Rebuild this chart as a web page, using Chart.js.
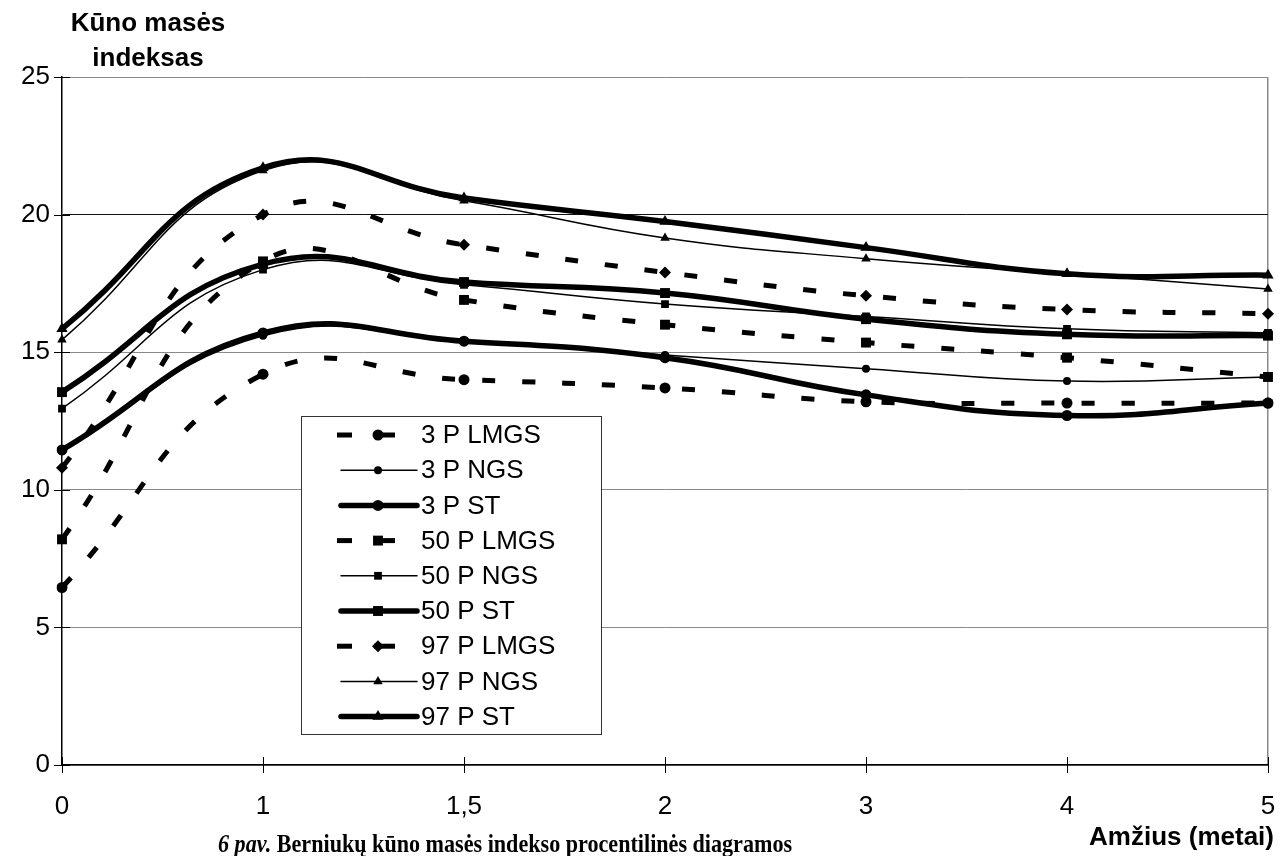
<!DOCTYPE html>
<html>
<head>
<meta charset="utf-8">
<script src="https://cdn.jsdelivr.net/npm/chart.js@4/dist/chart.umd.min.js"></script>
<style>
  html, body { margin: 0; padding: 0; background: #fff; }
  #wrap { position: relative; width: 1282px; height: 856px; overflow: hidden; }
  #c { position: absolute; left: 0; top: 0; }
  .lbl { position: absolute; font-family: "Liberation Sans", Arial, sans-serif; color: #000; white-space: nowrap; }
  #ytitle { left: 148px; top: 5px; transform: translateX(-50%); font-size: 26px; font-weight: bold; text-align: center; line-height: 35px; }
  #xtitle { right: 8px; top: 821px; font-size: 26px; font-weight: bold; }
  #caption { left: 218px; top: 830px; font-family: "Liberation Serif", "Times New Roman", serif; font-size: 25px; line-height: 28px; font-weight: bold; transform: scaleX(0.885); transform-origin: left top; }
</style>
</head>
<body>
<div id="wrap">
  <canvas id="c" width="1282" height="856"></canvas>
  <div class="lbl" id="ytitle">Kūno masės<br>indeksas</div>
  <div class="lbl" id="xtitle">Amžius (metai)</div>
  <div class="lbl" id="caption"><i>6 pav.</i> Berniukų kūno masės indekso procentilinės diagramos</div>
</div>
<script>
// age categories (years)
const ages = ['0', '1', '1,5', '2', '3', '4', '5']

// body mass index percentiles
const p3_lmgs  = [6.45, 14.2, 14.0, 13.7, 13.2, 13.15, 13.15]
const p3_ngs   = [11.4, 15.6, 15.4, 14.9, 14.4, 13.95, 14.1]
const p3_st    = [11.45, 15.7, 15.4, 14.8, 13.45, 12.7, 13.15]
const p50_lmgs = [8.2, 18.3, 16.9, 16.0, 15.35, 14.8, 14.1]
const p50_ngs  = [12.95, 18.0, 17.45, 16.75, 16.3, 15.85, 15.7]
const p50_st   = [13.55, 18.2, 17.55, 17.15, 16.2, 15.65, 15.6]
const p97_lmgs = [10.8, 20.0, 18.9, 17.9, 17.05, 16.55, 16.4]
const p97_ngs  = [15.45, 21.6, 20.5, 19.15, 18.4, 17.85, 17.3]
const p97_st   = [15.85, 21.7, 20.6, 19.75, 18.8, 17.85, 17.8]

const yTicks = [0, 5, 10, 15, 20, 25]

const FONT = '"Liberation Sans", Arial, sans-serif'

function lmgs(label, data, style, r){
  return { label, data, pointStyle: style, pointRadius: r, borderWidth: 5,
           borderDash: [13, 27], kind: 'dash' }
}
function ngs(label, data, style, r){
  return { label, data, pointStyle: style, pointRadius: r, borderWidth: 1.5, kind: 'thin' }
}
function st(label, data, style, r){
  return { label, data, pointStyle: style, pointRadius: r, borderWidth: 5.5, kind: 'thick' }
}

const datasets = [
  lmgs('3 P LMGS', p3_lmgs, 'circle', 5.5),
  ngs('3 P NGS', p3_ngs, 'circle', 4),
  st('3 P ST', p3_st, 'circle', 5.5),
  lmgs('50 P LMGS', p50_lmgs, 'rect', 7),
  ngs('50 P NGS', p50_ngs, 'rect', 5.5),
  st('50 P ST', p50_st, 'rect', 7),
  lmgs('97 P LMGS', p97_lmgs, 'rectRot', 6),
  ngs('97 P NGS', p97_ngs, 'triangle', 5.5),
  st('97 P ST', p97_st, 'triangle', 6.5),
].map(d => Object.assign({
  borderColor: '#000', backgroundColor: '#000', pointBackgroundColor: '#000',
  pointBorderColor: '#000', pointBorderWidth: 0, tension: 0.45,
  borderCapStyle: 'butt', borderJoinStyle: 'round', fill: false,
}, d))

// tick marks crossing the axes and the legend box
const extras = {
  id: 'extras',
  afterDraw(chart){
    const ctx = chart.ctx
    const x = chart.scales.x, y = chart.scales.y
    const area = chart.chartArea
    ctx.save()
    ctx.strokeStyle = '#000'
    ctx.lineWidth = 1
    yTicks.forEach(v => {
      const py = Math.round(y.getPixelForValue(v)) + 0.5
      ctx.beginPath(); ctx.moveTo(area.left - 8, py); ctx.lineTo(area.left + 8, py); ctx.stroke()
    })
    ages.forEach((a, i) => {
      const px = Math.round(x.getPixelForValue(i)) + 0.5
      ctx.beginPath(); ctx.moveTo(px, area.bottom - 8); ctx.lineTo(px, area.bottom + 8); ctx.stroke()
    })

    // legend
    const bx = 301, by = 416, bw = 300, bh = 318
    ctx.fillStyle = '#fff'
    ctx.fillRect(bx, by, bw, bh)
    ctx.strokeStyle = '#333'
    ctx.lineWidth = 1
    ctx.strokeRect(bx + 0.5, by + 0.5, bw, bh)
    chart.data.datasets.forEach((d, i) => {
      const cy = by + 19 + i * 35.2
      const x0 = 340, x1 = 417, mx = 378
      ctx.strokeStyle = '#000'
      ctx.lineWidth = d.borderWidth
      ctx.lineCap = d.kind === 'dash' ? 'butt' : 'round'
      if (d.kind === 'dash') {
        ctx.beginPath(); ctx.moveTo(x0 - 3, cy); ctx.lineTo(x0 + 12, cy); ctx.stroke()
        ctx.beginPath(); ctx.moveTo(mx - 4, cy); ctx.lineTo(mx + 17, cy); ctx.stroke()
      } else {
        ctx.beginPath(); ctx.moveTo(x0 + 1, cy); ctx.lineTo(x1, cy); ctx.stroke()
      }
      ctx.fillStyle = '#000'
      Chart.helpers.drawPoint(ctx, { pointStyle: d.pointStyle, radius: d.pointRadius, borderWidth: 0 }, mx, cy)
      ctx.fillStyle = '#000'
      ctx.font = '26px ' + FONT
      ctx.textBaseline = 'middle'
      ctx.textAlign = 'left'
      ctx.fillText(d.label, 421, cy + 1)
    })
    ctx.restore()
  }
}

new Chart(document.getElementById('c'), {
  type: 'line',
  data: { labels: ages, datasets: datasets },
  options: {
    responsive: false,
    animation: false,
    layout: { padding: { top: 77, right: 14, left: 0, bottom: 0 } },
    plugins: { legend: { display: false }, tooltip: { enabled: false } },
    scales: {
      x: {
        offset: false,
        grid: {
          drawTicks: false,
          color: c => c.index === ages.length - 1 ? '#8a8a8a' : 'rgba(0,0,0,0)',
          lineWidth: 1.5,
        },
        border: { color: '#000', width: 1.5 },
        ticks: { color: '#000', padding: 26, maxRotation: 0, font: { family: FONT, size: 26 } },
        afterFit(s){ s.height = 91; s.paddingRight = 0; s.paddingLeft = 0 },
      },
      y: {
        min: 0, max: 25,
        grid: { drawTicks: false, color: c => c.tick.value === 20 ? '#111' : '#8a8a8a', lineWidth: 1 },
        border: { color: '#000', width: 1.5 },
        ticks: { stepSize: 5, color: '#000', padding: 12, font: { family: FONT, size: 26 } },
        afterFit(s){ s.width = 62 },
      }
    }
  },
  plugins: [extras]
})
</script>
</body>
</html>
